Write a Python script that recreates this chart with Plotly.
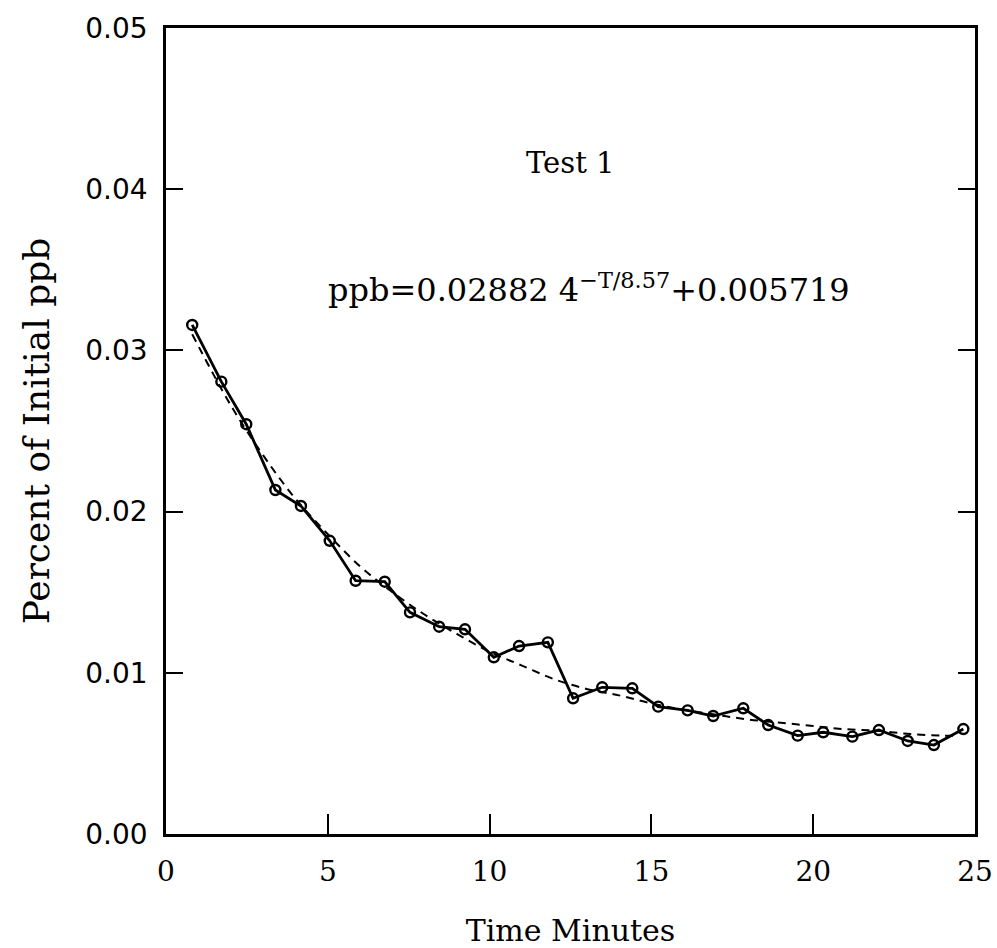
import plotly.graph_objects as go

time_min = [0.81, 1.71, 2.48, 3.38, 4.17, 5.06, 5.86, 6.76, 7.54, 8.44, 9.24, 10.13,
            10.91, 11.80, 12.58, 13.48, 14.41, 15.21, 16.12, 16.91, 17.84, 18.61,
            19.52, 20.31, 21.21, 22.03, 22.92, 23.73, 24.64]
ppb = [0.03158, 0.02806, 0.02542, 0.02134, 0.02035, 0.01819, 0.01571, 0.01565, 0.01375,
       0.01286, 0.01270, 0.01096, 0.01166, 0.01189, 0.00842, 0.00910, 0.00904, 0.00790,
       0.00767, 0.00732, 0.00780, 0.00676, 0.00610, 0.00631, 0.00604, 0.00645, 0.00577,
       0.00552, 0.00651]

# Fitted curve
fit_t = [0.81, 2, 3, 4, 5, 6, 7, 8, 9, 10, 11, 12, 13, 14, 15, 16, 17, 18, 19, 20,
         21, 22, 23, 24, 24.5]
fit_ppb = [0.0310, 0.0266, 0.0235, 0.0208, 0.0186, 0.0166, 0.0150, 0.0136, 0.0124,
           0.0113, 0.01045, 0.0096, 0.0090, 0.0086, 0.0081, 0.0077, 0.0074, 0.0071,
           0.0069, 0.0067, 0.0065, 0.0064, 0.0062, 0.0061, 0.0061]

x_ticks = [0, 5, 10, 15, 20, 25]
y_ticks = [0.00, 0.01, 0.02, 0.03, 0.04, 0.05]

SERIF = "DejaVu Serif"
SANS = "DejaVu Sans"

fig = go.Figure()
fig.add_trace(go.Scatter(x=fit_t, y=fit_ppb, mode="lines", line_shape="spline",
                         line=dict(color="black", width=2, dash="8px,6px"),
                         showlegend=False, hoverinfo="skip"))
fig.add_trace(go.Scatter(x=time_min, y=ppb, mode="lines+markers",
                         line=dict(color="black", width=2.8),
                         marker=dict(symbol="circle-open", size=10, color="black",
                                     line=dict(width=2.4, color="black")),
                         showlegend=False))

fig.add_annotation(x=12.48, y=0.0416, text="Test 1", showarrow=False,
                   font=dict(family=SERIF, size=29, color="black"))
fig.add_annotation(x=13.07, y=0.0339,
                   text="ppb=0.02882 4<sup>−T/8.57</sup>+0.005719", showarrow=False,
                   font=dict(family=SERIF, size=32, color="black"))

fig.update_layout(
    template="none",
    width=997, height=948,
    margin=dict(l=166, r=22, t=28, b=114),
    paper_bgcolor="white", plot_bgcolor="white",
    font=dict(family=SERIF, color="black", size=24),
)
fig.update_xaxes(range=[0, 25], tickvals=x_ticks, ticktext=[str(v) for v in x_ticks],
                 ticks="inside", ticklen=20, tickwidth=1.5, tickcolor="black",
                 showline=True, linecolor="black", linewidth=2.5, mirror=True,
                 showgrid=False, zeroline=False, automargin=False,
                 ticklabelstandoff=11, ticklabeloverflow="allow",
                 tickfont=dict(family=SERIF, size=28),
                 title=dict(text="Time Minutes", font=dict(family=SERIF, size=30), standoff=34))
fig.update_yaxes(range=[0, 0.05], tickvals=y_ticks, ticktext=[f"{v:.2f}" for v in y_ticks],
                 ticks="inside", ticklen=17, tickwidth=1.5, tickcolor="black",
                 showline=True, linecolor="black", linewidth=2.5, mirror="ticks",
                 showgrid=False, zeroline=False, automargin=False,
                 ticklabelstandoff=10, ticklabeloverflow="allow",
                 tickfont=dict(family=SANS, size=28),
                 title=dict(text="Percent of Initial ppb", font=dict(family=SERIF, size=36), standoff=25))

fig.write_html("out.html", config={"displayModeBar": False},
               post_script="document.body.style.margin='0';document.body.style.overflow='hidden';")
